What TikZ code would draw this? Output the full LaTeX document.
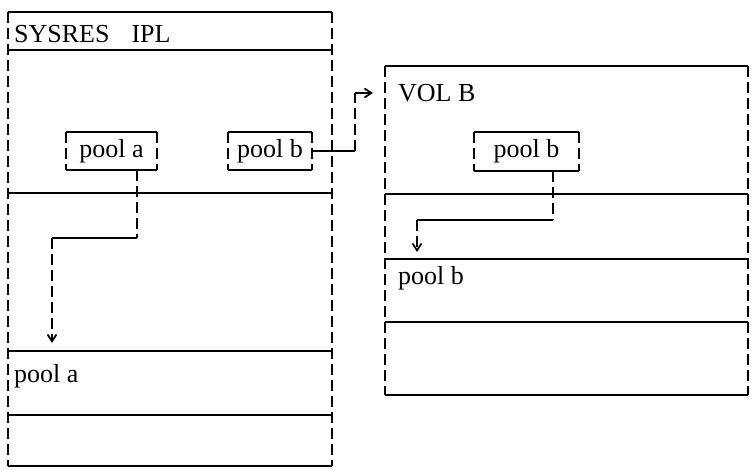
\documentclass[tikz,border=0pt]{standalone}
\usepackage{fontspec}
\setmainfont{Liberation Serif}
\usetikzlibrary{arrows.meta}
\tikzset{
  hl/.style={line width=1.7pt, line cap=butt},
  vl/.style={line width=1.7pt, dash pattern=on 11pt off 5pt},
  lbl/.style={font=\fontsize{26}{26}\selectfont, inner sep=0pt},
  poolbox/.style={lbl, minimum height=38pt, inner sep=0pt},
  arr/.style={-{Straight Barb[length=7pt,width=9pt,line width=1.7pt]}}
}
\newcommand\hvframe[1]{%
  \draw[hl] (#1.north west) -- (#1.north east) (#1.south west) -- (#1.south east);
  \draw[vl] (#1.north west) -- (#1.south west) (#1.north east) -- (#1.south east);}
\begin{document}
\begin{tikzpicture}[x=1pt,y=-1pt]
\useasboundingbox (0,0) rectangle (753,470);
% left volume (SYSRES)
\draw[vl] (8,12) -- (8,466) (332,12) -- (332,466);
\foreach \y in {12,50,193,351,415,466} \draw[hl] (8,\y) -- (332,\y);
% right volume (VOL B)
\draw[vl] (385,66) -- (385,395) (748,66) -- (748,395);
\foreach \y in {66,194,259,322,395} \draw[hl] (385,\y) -- (748,\y);
% labels
\node[lbl, anchor=base west] (sysres) at (14,43) {SYSRES\hspace{22pt}IPL};
\node[lbl, anchor=base west] (volb) at (398,102) {VOL B};
\node[lbl, anchor=base west] (pooladata) at (14,383) {pool a};
\node[lbl, anchor=base west] (poolbdata) at (398,285) {pool b};
% pool boxes
\node[poolbox, minimum width=91pt] (pa) at (111.5,151) {pool a};
\node[poolbox, minimum width=84pt] (pb) at (270,151) {pool b};
\node[poolbox, minimum width=105pt] (pbr) at (526.5,151.5) {pool b};
\hvframe{pa}
\hvframe{pb}
\hvframe{pbr}
% target coordinates
\coordinate (ta) at (52,343);
\coordinate (tb) at (373,93);
\coordinate (tc) at (417,252);
% connector pool a -> pool a data
\coordinate (a0) at ([xshift=25.5pt]pa.south);
\coordinate (a1) at (a0 |- 0,238);
\coordinate (a2) at (ta |- 0,238);
\draw[vl] (a0) -- (a1);
\draw[hl] (a1) -- (a2);
\draw[vl, arr] (a2) -- (ta);
% connector pool b -> VOL B
\coordinate (b1) at (355,151);
\coordinate (b2) at (355,93);
\draw[hl] (pb.east) -- (b1);
\draw[vl] (b1) -- (b2);
\draw[hl, arr] (b2) -- (tb);
% connector pool b (VOL B) -> pool b data
\coordinate (c0) at ([xshift=26.5pt]pbr.south);
\coordinate (c1) at (c0 |- 0,220);
\coordinate (c2) at (tc |- 0,220);
\draw[vl] (c0) -- (c1);
\draw[hl] (c1) -- (c2);
\draw[vl, arr] (c2) -- (tc);
\end{tikzpicture}
\end{document}
